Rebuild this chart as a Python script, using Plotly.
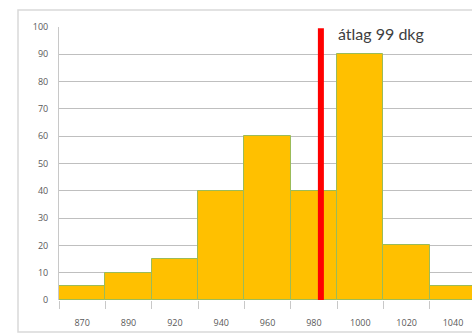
import plotly.graph_objects as go

# Weight classes (g) and counts per class
categories = ["870", "890", "920", "940", "960", "980", "1000", "1020", "1040"]
counts = [5, 10, 15, 40, 60, 40, 90, 20, 5]
y_ticks = [0, 10, 20, 30, 40, 50, 60, 70, 80, 90, 100]

# Mean marker, expressed as a position along the category axis
mean_label = "átlag 99 dkg"
mean_pos = 5.15

W, H = 472, 335
ML, MT, MB = 59, 27, 35
plot_w = W - ML
plot_h = H - MT - MB

fig = go.Figure()
fig.add_trace(go.Bar(
    x=categories,
    y=counts,
    marker=dict(color="#FFC000", line=dict(color="#9BBB59", width=1)),
    hoverinfo="skip",
))

def px_to_paper_x(px):
    return (px - ML) / plot_w

def px_to_paper_y(py):
    return (H - MB - py) / plot_h

# Light chart frame
fig.add_shape(type="rect", xref="paper", yref="paper",
              x0=px_to_paper_x(18), x1=px_to_paper_x(520),
              y0=px_to_paper_y(332), y1=px_to_paper_y(10),
              line=dict(color="#D9D9D9", width=1.5), layer="below")

# Mean line
fig.add_shape(type="line", xref="x", yref="y",
              x0=mean_pos, x1=mean_pos, y0=-1, y1=99.5,
              line=dict(color="#FF0000", width=6), layer="above")

fig.add_annotation(x=mean_pos, y=97.5, xref="x", yref="y",
                   text=mean_label, showarrow=False,
                   xanchor="left", yanchor="middle", xshift=15,
                   font=dict(family="Lato, Open Sans, sans-serif", size=16, color="#404040"))

fig.update_layout(
    width=W, height=H,
    margin=dict(l=ML, r=0, t=MT, b=MB),
    paper_bgcolor="white", plot_bgcolor="white",
    bargap=0, showlegend=False,
    font=dict(family="Open Sans, sans-serif", size=9, color="#595959"),
)
fig.update_xaxes(
    type="category", range=[-0.5, 8.41],
    tickson="boundaries", ticks="outside", ticklen=8, tickcolor="#C8C8C8",
    ticklabelstandoff=16,
    showgrid=False, showline=False, tickfont=dict(size=9, color="#595959"),
)
fig.update_yaxes(
    range=[0, 100], tickvals=y_ticks,
    showgrid=True, gridcolor="#BFBFBF", gridwidth=1,
    showline=True, linecolor="#C8C8C8", linewidth=1,
    ticks="", ticklabelstandoff=8, zeroline=False,
    tickfont=dict(size=9, color="#595959"),
)

fig.write_html("out.html")
